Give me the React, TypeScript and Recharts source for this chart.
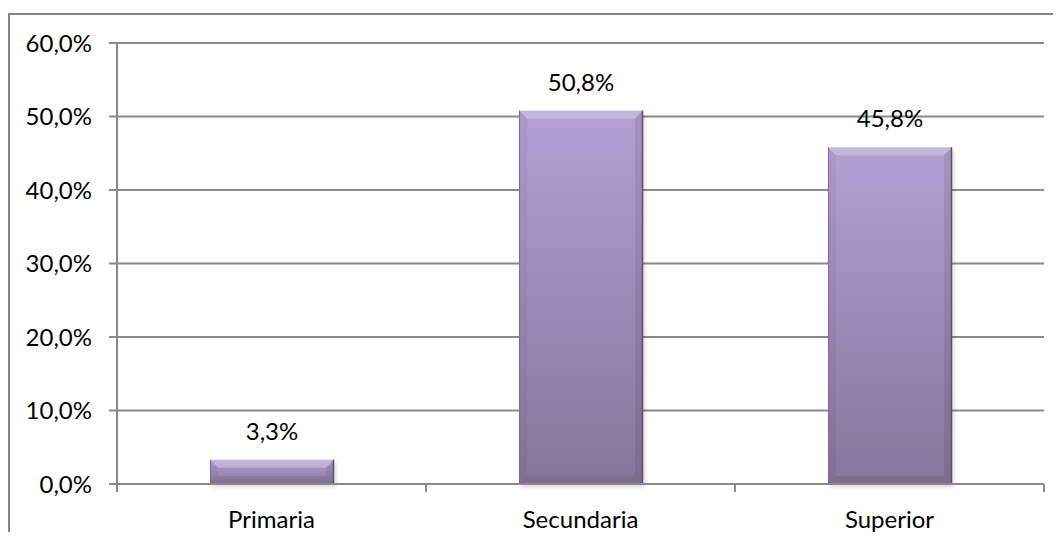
import { BarChart, Bar, XAxis, YAxis, CartesianGrid, LabelList } from 'recharts';

// Nivel de estudios (porcentaje)
const categories = ['Primaria', 'Secundaria', 'Superior'];
const values = [3.3, 50.8, 45.8];
const yTicks = [0, 10, 20, 30, 40, 50, 60];

const data = categories.map((name, i) => ({ name, value: values[i] }));

const CHART_W = 1045;
const CHART_H = 524;
const MARGIN = { top: 35, right: 9, bottom: 0, left: 9 };
const Y_AXIS_W = 100;
const X_AXIS_H = 48;
const BAND = (CHART_W - MARGIN.left - MARGIN.right - Y_AXIS_W) / categories.length;

const FONT = 'Lato, "Open Sans", sans-serif';
const GRID = '#8a8a8a';

const fmt = (v: number) => v.toFixed(1).replace('.', ',') + '%';

const XTick = (props: any) => {
  const { x, y, payload } = props;
  return (
    <g>
      <line x1={x - BAND / 2} y1={y} x2={x - BAND / 2} y2={y + 8} stroke={GRID} strokeWidth={2} />
      <line x1={x + BAND / 2} y1={y} x2={x + BAND / 2} y2={y + 8} stroke={GRID} strokeWidth={2} />
      <text x={x} y={y + 44} textAnchor="middle" fill="#000" fontSize={24} fontFamily={FONT}>
        {payload.value}
      </text>
    </g>
  );
};

const BevelBar = (props: any) => {
  const { x, y, width, height } = props;
  if (!height || height <= 0) return null;
  const b = Math.min(8, height / 2, width / 2);
  const r = x + width;
  const bt = y + height;
  return (
    <g>
      <rect x={x + 2} y={y + 3} width={width} height={height} fill="#000" opacity={0.15} filter="url(#barShadow)" />
      <rect x={x} y={y} width={width} height={height} fill="url(#barFill)" />
      <polygon points={`${x},${y} ${r},${y} ${r - b},${y + b} ${x + b},${y + b}`} fill="#fff" opacity={0.25} />
      <polygon points={`${x},${y} ${x + b},${y + b} ${x + b},${bt - b} ${x},${bt}`} fill="#000" opacity={0.04} />
      <polygon points={`${r},${y} ${r},${bt} ${r - b},${bt - b} ${r - b},${y + b}`} fill="#000" opacity={0.08} />
      <polygon points={`${x},${bt} ${r},${bt} ${r - b},${bt - b} ${x + b},${bt - b}`} fill="#000" opacity={0.07} />
      <line x1={r - 0.5} y1={y} x2={r - 0.5} y2={bt} stroke="#5e5070" strokeWidth={1.5} />
      <line x1={x + 0.5} y1={y} x2={x + 0.5} y2={bt} stroke="#7d6e92" strokeWidth={1} />
    </g>
  );
};

export default function App() {
  return (
    <div style={{ position: 'relative', width: CHART_W, height: CHART_H }}>
      <style>{'body{overflow:hidden}'}</style>
      <div
        style={{
          position: 'absolute',
          left: 0,
          top: 5,
          width: CHART_W + 40,
          height: CHART_H + 40,
          borderTop: '2px solid #868686',
          borderLeft: '2px solid #868686',
        }}
      />
      <div style={{ position: 'absolute', left: 0, top: 0 }}>
        <BarChart width={CHART_W} height={CHART_H} data={data} margin={MARGIN} barSize={124}>
          <defs>
            <linearGradient id="barFill" x1="0" y1="0" x2="0" y2="1">
              <stop offset="0%" stopColor="#b2a1d3" />
              <stop offset="100%" stopColor="#86759b" />
            </linearGradient>
            <filter id="barShadow" x="-10%" y="-10%" width="130%" height="130%">
              <feGaussianBlur stdDeviation="2" />
            </filter>
          </defs>
          <CartesianGrid vertical={false} stroke={GRID} strokeWidth={2} />
          <XAxis
            dataKey="name"
            height={X_AXIS_H}
            axisLine={{ stroke: GRID, strokeWidth: 2 }}
            tickLine={false}
            tickSize={0}
            tickMargin={0}
            tick={<XTick />}
            interval={0}
          />
          <YAxis
            width={Y_AXIS_W}
            domain={[0, 60]}
            ticks={yTicks}
            tickFormatter={(v: number) => fmt(v)}
            axisLine={{ stroke: GRID, strokeWidth: 2 }}
            tickLine={{ stroke: GRID, strokeWidth: 2 }}
            tickSize={8}
            tickMargin={17}
            tick={{ fill: '#000', fontSize: 24, fontFamily: FONT }}
          />
          <Bar dataKey="value" shape={<BevelBar />} isAnimationActive={false}>
            <LabelList
              dataKey="value"
              position="top"
              offset={20}
              formatter={(v: any) => fmt(Number(v))}
              style={{ fill: '#000', fontSize: 24, fontFamily: FONT }}
            />
          </Bar>
        </BarChart>
      </div>
    </div>
  );
}
